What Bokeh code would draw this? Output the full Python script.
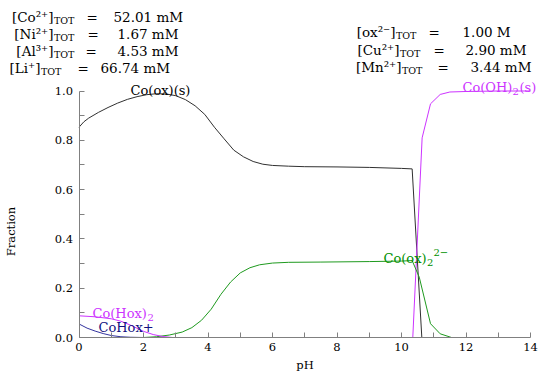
import math
from bokeh.plotting import figure
from bokeh.models import FixedTicker, Label, PrintfTickFormatter
from bokeh.embed import file_html
from bokeh.resources import INLINE

# ---------------- data ----------------
ph_coox_s = [0.0, 0.15, 0.3, 0.6, 0.9, 1.2, 1.5, 1.8, 2.1, 2.4, 2.7, 3.0, 3.3, 3.6, 3.9,
             4.2, 4.5, 4.8, 5.1, 5.4, 5.7, 6.0, 6.5, 7.0, 8.0, 9.0, 10.0, 10.33, 10.63]
frac_coox_s = [0.853, 0.875, 0.890, 0.913, 0.933, 0.951, 0.966, 0.977, 0.985, 0.989, 0.988,
               0.981, 0.965, 0.940, 0.905, 0.853, 0.806, 0.760, 0.733, 0.714, 0.703, 0.698,
               0.695, 0.693, 0.692, 0.690, 0.686, 0.684, 0.0]

ph_cooh2_s = [10.35, 10.64, 10.9, 11.2, 11.5, 12.0, 13.0, 14.0]
frac_cooh2_s = [0.0, 0.81, 0.948, 0.986, 0.996, 0.998, 1.0, 1.0]

ph_coox2 = [2.0, 2.4, 2.8, 3.2, 3.5, 3.8, 4.1, 4.4, 4.7, 5.0, 5.3, 5.6, 6.0, 6.5, 7.5,
            9.0, 10.0, 10.33, 10.55, 10.9, 11.2, 11.55]
frac_coox2 = [0.0, 0.003, 0.010, 0.022, 0.040, 0.070, 0.115, 0.175, 0.225, 0.262, 0.283,
              0.295, 0.302, 0.305, 0.306, 0.308, 0.310, 0.312, 0.245, 0.056, 0.015, 0.0]

ph_cohox2 = [0.0, 0.5, 1.0, 1.3, 1.6, 2.0, 2.3, 2.6, 2.9]
frac_cohox2 = [0.088, 0.084, 0.076, 0.066, 0.050, 0.025, 0.012, 0.004, 0.0]

ph_cohox = [0.0, 0.25, 0.5, 0.75, 1.0, 1.3, 1.6, 2.0]
frac_cohox = [0.055, 0.038, 0.026, 0.016, 0.008, 0.003, 0.001, 0.0]

x_major = [0, 2, 4, 6, 8, 10, 12, 14]
x_minor = [1, 3, 5, 7, 9, 11, 13]
y_major = [0.0, 0.2, 0.4, 0.6, 0.8, 1.0]
y_minor = [0.1, 0.3, 0.5, 0.7, 0.9]

left_species = ["Co", "Ni", "Al", "Li"]
left_charges = ["2+", "2+", "3+", "+"]
left_conc = ["52.01 mM", "1.67 mM", "4.53 mM", "66.74 mM"]
right_species = ["ox", "Cu", "Mn"]
right_charges = ["2-", "2+", "2+"]
right_conc = ["1.00 M", "2.90 mM", "3.44 mM"]

# ---------------- geometry (page pixels of the plot box) ----------------
W, H = 550, 375
X0_PX, PX_PER_X = 78.5, 32.25      # pH 0 position, pixels per pH unit
Y0_PX, PX_PER_Y = 337.0, 246.5     # fraction 0 position, pixels per unit


def px2x(px):
    return (px - X0_PX) / PX_PER_X


def py2y(py):
    return (Y0_PX - py) / PX_PER_Y


FONT = "DejaVu Serif"
BLACK = "#000000"
PURPLE = "#cc33ff"
GREEN = "#1f9a1f"
GREEN_TXT = "#008f00"
BLUE = "#33339f"
BLUE_TXT = "#10107f"
AXIS = "#808080"

p = figure(width=W, height=H,
           x_range=(px2x(0), px2x(W)), y_range=(py2y(H), py2y(0)),
           output_backend="svg", toolbar_location=None,
           min_border=0, min_border_left=0, min_border_right=0,
           min_border_top=0, min_border_bottom=0)
p.outline_line_color = None
p.grid.visible = False
p.background_fill_color = "white"
p.border_fill_color = "white"

for ax in (p.xaxis[0], p.yaxis[0]):
    ax.fixed_location = 0
    ax.axis_line_color = AXIS
    ax.major_tick_line_color = AXIS
    ax.minor_tick_line_color = AXIS
    ax.major_tick_in = 5
    ax.major_tick_out = 0
    ax.minor_tick_in = 5
    ax.minor_tick_out = 0
    ax.major_label_text_font = FONT
    ax.major_label_text_font_size = "11.5px"
    ax.major_label_text_color = BLACK

p.xaxis.bounds = (0, 14)
p.yaxis.bounds = (0, 1)
p.xaxis.ticker = FixedTicker(ticks=x_major, minor_ticks=x_minor)
p.yaxis.ticker = FixedTicker(ticks=y_major, minor_ticks=y_minor)
p.yaxis.formatter = PrintfTickFormatter(format="%.1f")
p.xaxis.major_label_standoff = 5
p.yaxis.major_label_standoff = 6
p.xaxis.axis_label = "pH"
p.xaxis.axis_label_text_font = FONT
p.xaxis.axis_label_text_font_size = "11.5px"
p.xaxis.axis_label_text_font_style = "normal"
p.xaxis.axis_label_text_color = BLACK
p.xaxis.axis_label_standoff = 4

# ---------------- curves ----------------
p.line(ph_coox_s, frac_coox_s, line_color="#303030", line_width=1)
p.line(ph_cooh2_s, frac_cooh2_s, line_color=PURPLE, line_width=1)
p.line(ph_coox2, frac_coox2, line_color=GREEN, line_width=1)
p.line(ph_cohox2, frac_cohox2, line_color=PURPLE, line_width=1)
p.line(ph_cohox, frac_cohox, line_color=BLUE, line_width=1)

# ---------------- text ----------------
SUP = str.maketrans("0123456789+-", "⁰¹²³⁴⁵⁶⁷⁸⁹⁺⁻")


def lab(text, px, py, size="13px", color=BLACK, align="left", baseline="alphabetic", angle=0.0):
    p.add_layout(Label(x=px2x(px), y=py2y(py), text=text, text_font=FONT,
                       text_font_size=size, text_color=color, text_align=align,
                       text_baseline=baseline, angle=angle))


def header(species, charges, conc, tot_x, eq_x, val_x, base_y):
    for s, c, v, tx, ex, vx, by in zip(species, charges, conc, tot_x, eq_x, val_x, base_y):
        lab("[" + s + c.translate(SUP) + "]", tx, by, size="13.5px", align="right")
        lab("TOT", tx + 0.5, by + 3.5, size="9.5px")
        lab("=", ex, by, size="13.5px")
        lab(v, vx, by, size="13.5px")


header(left_species, left_charges, left_conc,
       [53, 53, 53, 40], [86, 87, 85, 77], [113, 117, 117, 100], [16, 33.3, 50, 67.7])
header(right_species, right_charges, right_conc,
       [395, 399, 401], [428, 433, 437], [462, 465, 470], [31, 49, 66])

# curve labels (subscripts / superscripts as smaller, shifted pieces)
lab("Co(ox)(s)", 160, 90, align="center")

lab("Co(OH)", 462, 87, color=PURPLE)
lab("2", 512, 90.5, size="10px", color=PURPLE)
lab("(s)", 519, 87, color=PURPLE)

lab("Co(ox)", 383, 258, color=GREEN_TXT)
lab("2", 426.5, 261.5, size="10px", color=GREEN_TXT)
lab("2\u2212", 433, 251.5, size="10px", color=GREEN_TXT)

lab("Co(Hox)", 92, 313, color=PURPLE)
lab("2", 147, 316.5, size="10px", color=PURPLE)

lab("CoHox+", 98, 327, color=BLUE_TXT)
lab("Fraction", 10, 231, size="11.5px", align="center", baseline="middle", angle=math.pi / 2)

open("out.html", "w").write(file_html(p, INLINE))
